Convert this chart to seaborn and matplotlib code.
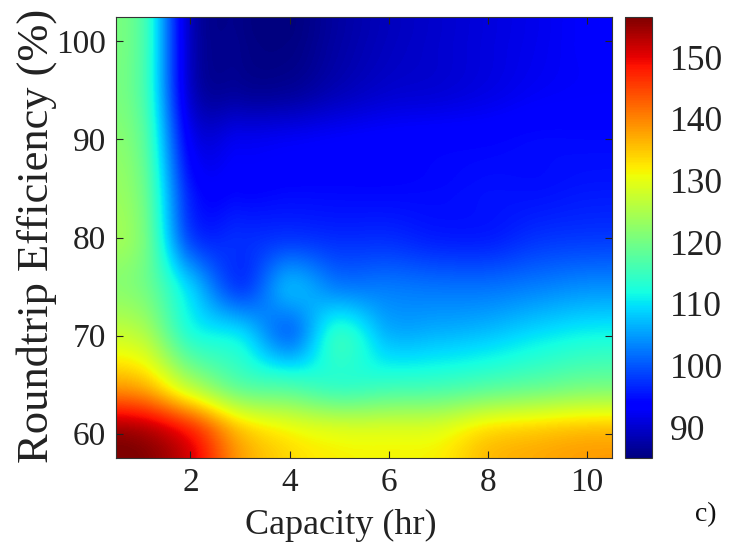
import numpy as np
import matplotlib
matplotlib.use("Agg")
import matplotlib.pyplot as plt
import seaborn as sns

# Axes values
capacity_hr = [1, 2, 3, 4, 5, 6, 7, 8, 9, 10]
efficiency_pct = [60, 65, 70, 75, 80, 85, 90, 95, 100]

# Cost values per efficiency row (columns follow capacity_hr)
eff_60 = [154.0, 148.0, 136.0, 131.5, 129.7, 129.5, 130.0, 133.6, 135.0, 136.0]
eff_65 = [136.5, 126.0, 118.0, 116.0, 114.5, 115.0, 115.5, 117.0, 118.5, 120.0]
eff_70 = [126.0, 113.5, 110.0, 102.5, 113.5, 107.0, 107.0, 108.0, 110.0, 111.5]
eff_75 = [120.5, 108.5, 98.5, 106.0, 103.0, 102.5, 102.0, 102.0, 103.0, 104.0]
eff_80 = [121.0, 99.0, 97.0, 97.7, 97.0, 97.0, 96.0, 96.0, 97.5, 98.0]
eff_85 = [120.0, 96.0, 94.0, 94.3, 94.3, 94.3, 94.5, 95.0, 95.0, 95.5]
eff_90 = [118.5, 93.0, 92.0, 92.4, 93.0, 93.5, 93.8, 94.0, 94.5, 94.5]
eff_95 = [117.0, 90.0, 86.8, 86.8, 88.6, 90.0, 90.5, 91.4, 92.5, 93.0]
eff_100 = [117.0, 89.5, 85.8, 85.3, 87.4, 89.0, 90.0, 91.0, 92.0, 93.0]

cbar_ticks = [90, 100, 110, 120, 130, 140, 150]
x_ticks = [2, 4, 6, 8, 10]
y_ticks = [60, 70, 80, 90, 100]

sns.set_theme(style="white")
plt.rcParams["font.family"] = ["Liberation Serif", "DejaVu Serif"]
plt.rcParams["mathtext.fontset"] = "stix"

Z = np.array([eff_60, eff_65, eff_70, eff_75, eff_80, eff_85, eff_90, eff_95, eff_100])
cmap = matplotlib.colormaps["jet"]

fig = plt.figure(figsize=(7.31, 5.58), dpi=100)
ax = fig.add_axes([116 / 731, 1 - 458 / 558, 496 / 731, 441 / 558])
cax = fig.add_axes([625 / 731, 1 - 458 / 558, 27 / 731, 441 / 558])

dx = (capacity_hr[1] - capacity_hr[0]) / 2
dy = (efficiency_pct[1] - efficiency_pct[0]) / 2
extent = [capacity_hr[0] - dx, capacity_hr[-1] + dx,
          efficiency_pct[0] - dy, efficiency_pct[-1] + dy]
im = ax.imshow(Z, origin="lower", extent=extent, aspect="auto", cmap=cmap,
               vmin=85, vmax=156.5, interpolation="catrom",
               interpolation_stage="data")

ax.set_xticks(x_ticks)
ax.set_yticks(y_ticks)
ax.tick_params(direction="in", length=5, width=0.8, color="#222222",
               top=True, right=True, bottom=True, left=True,
               labelsize=24, pad=7)
for s in ax.spines.values():
    s.set_linewidth(0.8)
    s.set_color("#333333")

ax.set_xlabel("Capacity (hr)", fontsize=26, color="#222222")
ax.set_ylabel("Roundtrip Efficiency (%)", fontsize=32, color="#222222",
              va="center", ha="center", rotation_mode="default")
ax.xaxis.set_label_coords(0.454, -0.115)
ax.yaxis.set_label_coords(-0.16, 0.503)
for t in ax.get_xticklabels() + ax.get_yticklabels():
    t.set_color("#222222")

cb = fig.colorbar(im, cax=cax, ticks=cbar_ticks)
cb.ax.tick_params(direction="in", length=5, width=0.8, labelsize=25.5, pad=13,
                  color="#222222", labelcolor="#222222")
cb.outline.set_linewidth(0.8)
cb.outline.set_edgecolor("#333333")

fig.text(0.966, 0.077, "c)", fontsize=20, ha="center", va="center", color="#111111")

fig.savefig("out.png", dpi=100)
